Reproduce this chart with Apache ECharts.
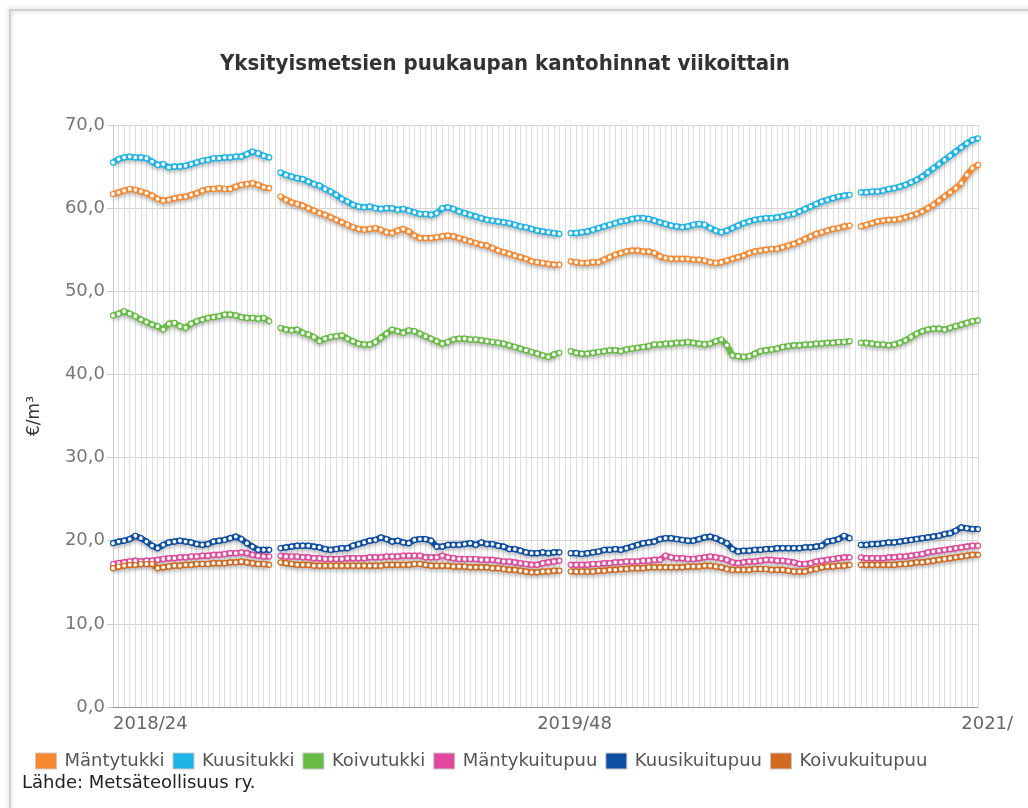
<!DOCTYPE html>
<html>
<head>
<meta charset="utf-8">
<script src="https://cdn.jsdelivr.net/npm/echarts@6/dist/echarts.min.js"></script>
<style>
  html, body { margin: 0; padding: 0; background: #fff; }
  #myChart { width: 1028px; height: 808px; }
</style>
</head>
<body>
<div id="myChart"></div>
<script>
// viikot 2018/24 ... 2021/, vuodenvaihteen viikko 1 puuttuu (null)
var xTickLabels = ['2018/24', '2019/48', '2021/'];
var xTickIndex = [0, 76, 152];

var seriesNames = ['Mäntytukki', 'Kuusitukki', 'Koivutukki', 'Mäntykuitupuu', 'Kuusikuitupuu', 'Koivukuitupuu'];
var seriesColors = ['#f7882f', '#1db4e8', '#67bc45', '#e2489d', '#0d4ea3', '#d2691e'];

var mantytukki = [
  61.7, 61.9, 62.1, 62.3, 62.2, 62.0, 61.8, 61.5, 61.1, 60.9, 61.0, 61.2, 61.3, 61.4, 61.6, 61.8, 62.1, 62.3, 62.3, 62.4, 62.3, 62.3, 62.6, 62.8, 62.9, 63.0, 62.8, 62.5, 62.4,
  null,
  61.4, 61.0, 60.7, 60.5, 60.3, 60.0, 59.7, 59.4, 59.2, 58.9, 58.6, 58.3, 58.0, 57.7, 57.5, 57.4, 57.5, 57.6, 57.4, 57.1, 57.0, 57.3, 57.5, 57.2, 56.7, 56.4, 56.4, 56.4, 56.5, 56.6, 56.7, 56.6, 56.4, 56.2, 56.0, 55.8, 55.6, 55.5, 55.2, 54.9, 54.7, 54.5, 54.3, 54.1, 53.9, 53.6, 53.5, 53.4, 53.3, 53.2, 53.2,
  null,
  53.6, 53.5, 53.4, 53.4, 53.5, 53.5, 53.8, 54.1, 54.4, 54.6, 54.8, 54.9, 54.9, 54.8, 54.8, 54.6, 54.2, 54.0, 53.9, 53.9, 53.9, 53.9, 53.8, 53.8, 53.7, 53.5, 53.4, 53.5, 53.7, 53.9, 54.1, 54.3, 54.6, 54.8, 54.9, 55.0, 55.1, 55.1, 55.3, 55.5, 55.7, 56.0, 56.3, 56.6, 56.9, 57.1, 57.3, 57.5, 57.6, 57.8, 57.9,
  null,
  57.8, 58.0, 58.2, 58.4, 58.5, 58.6, 58.6, 58.7, 58.9, 59.1, 59.3, 59.6, 60.0, 60.4, 60.9, 61.4, 61.9, 62.4, 63.0, 64.0, 64.8, 65.2
];
var kuusitukki = [
  65.5, 65.9, 66.1, 66.2, 66.1, 66.1, 66.0, 65.6, 65.2, 65.3, 64.9, 65.0, 65.0, 65.1, 65.3, 65.5, 65.7, 65.8, 66.0, 66.0, 66.1, 66.1, 66.2, 66.2, 66.5, 66.8, 66.6, 66.3, 66.1,
  null,
  64.3, 64.0, 63.8, 63.6, 63.5, 63.2, 62.9, 62.7, 62.3, 62.0, 61.6, 61.1, 60.8, 60.4, 60.2, 60.1, 60.2, 60.0, 59.9, 60.0, 60.0, 59.8, 59.9, 59.7, 59.5, 59.3, 59.3, 59.2, 59.4, 60.0, 60.1, 59.9, 59.6, 59.4, 59.2, 59.0, 58.8, 58.6, 58.5, 58.4, 58.3, 58.2, 58.0, 57.8, 57.7, 57.5, 57.3, 57.2, 57.1, 57.0, 56.9,
  null,
  57.0, 57.0, 57.1, 57.2, 57.4, 57.6, 57.8, 58.0, 58.2, 58.4, 58.5, 58.7, 58.8, 58.8, 58.7, 58.5, 58.3, 58.1, 57.9, 57.8, 57.7, 57.8, 58.0, 58.1, 58.0, 57.6, 57.3, 57.1, 57.3, 57.6, 57.9, 58.2, 58.4, 58.6, 58.7, 58.8, 58.8, 58.9, 59.0, 59.2, 59.3, 59.6, 59.9, 60.2, 60.5, 60.8, 61.0, 61.2, 61.4, 61.5, 61.6,
  null,
  61.9, 61.9, 62.0, 62.0, 62.1, 62.3, 62.4, 62.6, 62.8, 63.1, 63.4, 63.8, 64.3, 64.8, 65.3, 65.8, 66.3, 66.8, 67.3, 67.8, 68.2, 68.4
];
var koivutukki = [
  47.1, 47.3, 47.6, 47.3, 47.0, 46.6, 46.3, 46.0, 45.8, 45.4, 46.1, 46.2, 45.8, 45.6, 46.1, 46.4, 46.6, 46.8, 46.9, 47.0, 47.2, 47.2, 47.1, 46.9, 46.8, 46.8, 46.7, 46.8, 46.4,
  null,
  45.6, 45.4, 45.3, 45.4, 45.0, 44.8, 44.5, 44.0, 44.3, 44.5, 44.6, 44.7, 44.3, 44.0, 43.7, 43.6, 43.6, 43.9, 44.4, 44.9, 45.4, 45.2, 45.0, 45.3, 45.2, 44.9, 44.6, 44.3, 44.0, 43.7, 43.9, 44.2, 44.3, 44.3, 44.2, 44.2, 44.1, 44.0, 43.9, 43.8, 43.7, 43.5, 43.3, 43.1, 42.9, 42.7, 42.5, 42.3, 42.1, 42.4, 42.6,
  null,
  42.8, 42.6, 42.5, 42.5, 42.6, 42.7, 42.8, 42.9, 42.9, 42.8, 43.0, 43.1, 43.2, 43.3, 43.4, 43.6, 43.6, 43.7, 43.7, 43.8, 43.8, 43.9, 43.8, 43.7, 43.6, 43.7, 44.0, 44.2, 43.5, 42.3, 42.2, 42.1, 42.2, 42.5, 42.8, 42.9, 43.0, 43.1, 43.3, 43.4, 43.5, 43.5, 43.6, 43.6, 43.7, 43.7, 43.8, 43.8, 43.9, 43.9, 44.0,
  null,
  43.8, 43.8, 43.7, 43.6, 43.6, 43.5, 43.6, 43.8, 44.1, 44.5, 44.9, 45.2, 45.4, 45.5, 45.5, 45.4, 45.6, 45.8, 46.0, 46.2, 46.4, 46.5
];
var mantykuitupuu = [
  17.2, 17.3, 17.4, 17.5, 17.6, 17.5, 17.6, 17.6, 17.7, 17.8, 17.9, 17.9, 18.0, 18.0, 18.1, 18.1, 18.2, 18.2, 18.3, 18.3, 18.4, 18.5, 18.5, 18.6, 18.5, 18.3, 18.2, 18.1, 18.1,
  null,
  18.2, 18.1, 18.1, 18.1, 18.0, 18.0, 17.9, 17.9, 17.8, 17.8, 17.8, 17.8, 17.9, 17.9, 17.9, 17.9, 18.0, 18.0, 18.0, 18.1, 18.1, 18.1, 18.2, 18.2, 18.2, 18.2, 18.0, 18.0, 18.0, 18.2, 18.0, 17.9, 17.8, 17.8, 17.8, 17.8, 17.7, 17.7, 17.7, 17.6, 17.5, 17.5, 17.4, 17.3, 17.2, 17.1, 17.1, 17.3, 17.4, 17.5, 17.6,
  null,
  17.1, 17.1, 17.1, 17.1, 17.2, 17.2, 17.3, 17.3, 17.4, 17.4, 17.5, 17.5, 17.5, 17.6, 17.6, 17.7, 17.7, 18.2, 18.0, 17.9, 17.9, 17.8, 17.8, 17.9, 18.0, 18.1, 18.0, 17.9, 17.7, 17.4, 17.3, 17.4, 17.5, 17.5, 17.6, 17.7, 17.7, 17.6, 17.6, 17.5, 17.4, 17.2, 17.2, 17.3, 17.5, 17.6, 17.7, 17.8, 17.9, 18.0, 18.0,
  null,
  18.0, 17.9, 17.9, 17.9, 17.9, 18.0, 18.0, 18.1, 18.1, 18.2, 18.3, 18.4, 18.6, 18.7, 18.8, 18.9, 19.0, 19.1, 19.2, 19.3, 19.4, 19.4
];
var kuusikuitupuu = [
  19.7, 19.9, 20.0, 20.2, 20.6, 20.3, 19.9, 19.4, 19.1, 19.5, 19.8, 19.9, 20.0, 19.9, 19.8, 19.6, 19.5, 19.6, 19.9, 20.0, 20.1, 20.3, 20.5, 20.2, 19.7, 19.3, 18.9, 18.9, 18.9,
  null,
  19.1, 19.2, 19.3, 19.4, 19.4, 19.4, 19.3, 19.2, 19.0, 18.9, 19.0, 19.1, 19.1, 19.4, 19.6, 19.8, 20.0, 20.1, 20.4, 20.2, 19.9, 20.0, 19.8, 19.7, 20.1, 20.2, 20.2, 20.0, 19.3, 19.3, 19.5, 19.5, 19.5, 19.6, 19.7, 19.5, 19.8, 19.6, 19.6, 19.4, 19.3, 19.0, 19.0, 18.8, 18.6, 18.5, 18.5, 18.6, 18.5, 18.6, 18.6,
  null,
  18.5, 18.5, 18.4, 18.5, 18.6, 18.7, 18.9, 18.9, 19.0, 18.9, 19.1, 19.3, 19.5, 19.7, 19.8, 19.9, 20.2, 20.3, 20.3, 20.2, 20.1, 20.0, 20.0, 20.2, 20.4, 20.5, 20.3, 20.0, 19.7, 19.0, 18.7, 18.8, 18.8, 18.9, 18.9, 19.0, 19.0, 19.1, 19.1, 19.1, 19.1, 19.1, 19.2, 19.2, 19.3, 19.4, 19.9, 20.0, 20.2, 20.6, 20.3,
  null,
  19.5, 19.5, 19.6, 19.6, 19.7, 19.8, 19.8, 19.9, 20.0, 20.1, 20.2, 20.3, 20.4, 20.5, 20.6, 20.8, 20.9, 21.2, 21.6, 21.5, 21.4, 21.4
];
var koivukuitupuu = [
  16.7, 16.9, 17.0, 17.1, 17.1, 17.2, 17.2, 17.2, 16.7, 16.8, 16.9, 17.0, 17.0, 17.1, 17.1, 17.2, 17.2, 17.2, 17.3, 17.3, 17.3, 17.4, 17.4, 17.5, 17.4, 17.3, 17.2, 17.2, 17.1,
  null,
  17.4, 17.3, 17.2, 17.1, 17.1, 17.1, 17.0, 17.0, 17.0, 17.0, 17.0, 17.0, 17.0, 17.0, 17.0, 17.0, 17.0, 17.0, 17.0, 17.1, 17.1, 17.1, 17.1, 17.1, 17.2, 17.2, 17.1, 17.0, 17.0, 17.0, 17.0, 16.9, 16.9, 16.9, 16.8, 16.8, 16.8, 16.8, 16.7, 16.7, 16.6, 16.5, 16.5, 16.4, 16.3, 16.2, 16.2, 16.3, 16.3, 16.4, 16.4,
  null,
  16.3, 16.3, 16.3, 16.3, 16.3, 16.4, 16.4, 16.5, 16.5, 16.6, 16.6, 16.7, 16.7, 16.7, 16.8, 16.8, 16.8, 16.8, 16.8, 16.8, 16.8, 16.9, 16.9, 16.9, 17.0, 17.0, 16.9, 16.8, 16.6, 16.5, 16.5, 16.5, 16.5, 16.6, 16.6, 16.6, 16.5, 16.5, 16.5, 16.4, 16.3, 16.3, 16.3, 16.5, 16.6, 16.8, 16.9, 16.9, 17.0, 17.0, 17.1,
  null,
  17.1, 17.1, 17.1, 17.1, 17.1, 17.1, 17.1, 17.2, 17.2, 17.3, 17.4, 17.4, 17.5, 17.6, 17.7, 17.8, 17.9, 18.0, 18.1, 18.2, 18.3, 18.3
];

var seriesData = [mantytukki, kuusitukki, koivutukki, mantykuitupuu, kuusikuitupuu, koivukuitupuu];

// viikkokategoriat (2020 käsitellään 52 viikkona)
var weeks = [];
(function () {
    var y = 2018, w = 24;
    for (var i = 0; i < mantytukki.length; i++) {
        weeks.push(y + '/' + w);
        w++;
        if (w > 52) { w = 1; y++; }
    }
})();

var myChart_1 = echarts.init(document.getElementById('myChart'));

var series = [];
var legendData = [];
for (var k = 0; k < seriesNames.length; k++) {
    legendData.push({ name: seriesNames[k], itemStyle: { color: seriesColors[k], borderColor: '#c8c8c8', borderWidth: 1 } });
    series.push({
        name: seriesNames[k], type: 'line', data: seriesData[k],
        symbol: 'circle', symbolSize: 5, showAllSymbol: true, showSymbol: true,
        connectNulls: false,
        color: seriesColors[k],
        lineStyle: { color: seriesColors[k], width: 6, shadowColor: 'rgba(0,0,0,0.3)', shadowBlur: 4, shadowOffsetY: 2 },
        itemStyle: { color: '#fff', borderColor: seriesColors[k], borderWidth: 1.2 },
        emphasis: { disabled: true },
        animation: false
    });
}

var option = {
    animation: false,
    title: {
        text: 'Yksityismetsien puukaupan kantohinnat viikoittain',
        left: 500, top: 48, textAlign: 'center',
        textStyle: { fontFamily: 'Liberation Sans Narrow, DejaVu Sans Condensed, sans-serif', fontWeight: 'bold', fontSize: 22, color: '#333' }
    },
    legend: {
        data: legendData,
        left: 30, top: 747,
        itemWidth: 21, itemHeight: 16, itemGap: 8,
        icon: 'rect',
        textStyle: { fontFamily: 'DejaVu Sans', fontSize: 18, color: '#555', padding: [0, 0, 0, 3] }
    },
    grid: { left: 113, right: 50, top: 125, bottom: 101 },
    xAxis: {
        type: 'category',
        boundaryGap: false,
        data: weeks,
        axisLine: { show: true, lineStyle: { color: '#999' } },
        axisTick: { show: false },
        splitLine: { show: true, interval: 0, lineStyle: { color: '#dedede', width: 1 } },
        axisLabel: {
            interval: 0, align: 'left', margin: 8,
            fontFamily: 'DejaVu Sans', fontSize: 18, color: '#666',
            formatter: function (val, idx) {
                var p = xTickIndex.indexOf(idx);
                return p >= 0 ? xTickLabels[p] : '';
            }
        }
    },
    yAxis: {
        type: 'value',
        min: 0, max: 70, interval: 10,
        name: '€/m³', nameLocation: 'middle', nameGap: 70,
        nameTextStyle: { fontFamily: 'DejaVu Sans', fontSize: 17, color: '#333' },
        axisLine: { show: true, lineStyle: { color: '#ccc' } },
        axisTick: { show: true, length: 6, lineStyle: { color: '#ccc' } },
        splitLine: { show: true, lineStyle: { color: '#d4d4d4' } },
        axisLabel: {
            margin: 8, fontFamily: 'DejaVu Sans', fontSize: 18, color: '#777',
            formatter: function (v) { return v.toFixed(1).replace('.', ','); }
        }
    },
    graphic: [
        { type: 'rect', shape: { x: 10, y: 10, width: 1100, height: 900 },
          style: { fill: 'none', stroke: '#d0d0d0', lineWidth: 2, shadowBlur: 5, shadowColor: 'rgba(0,0,0,0.25)' }, silent: true },
        { type: 'text', left: 22, top: 774,
          style: { text: 'Lähde: Metsäteollisuus ry.', fontFamily: 'DejaVu Sans', fontSize: 18, fill: '#222' } }
    ],
    series: series
};

myChart_1.setOption(option);
</script>
</body>
</html>
